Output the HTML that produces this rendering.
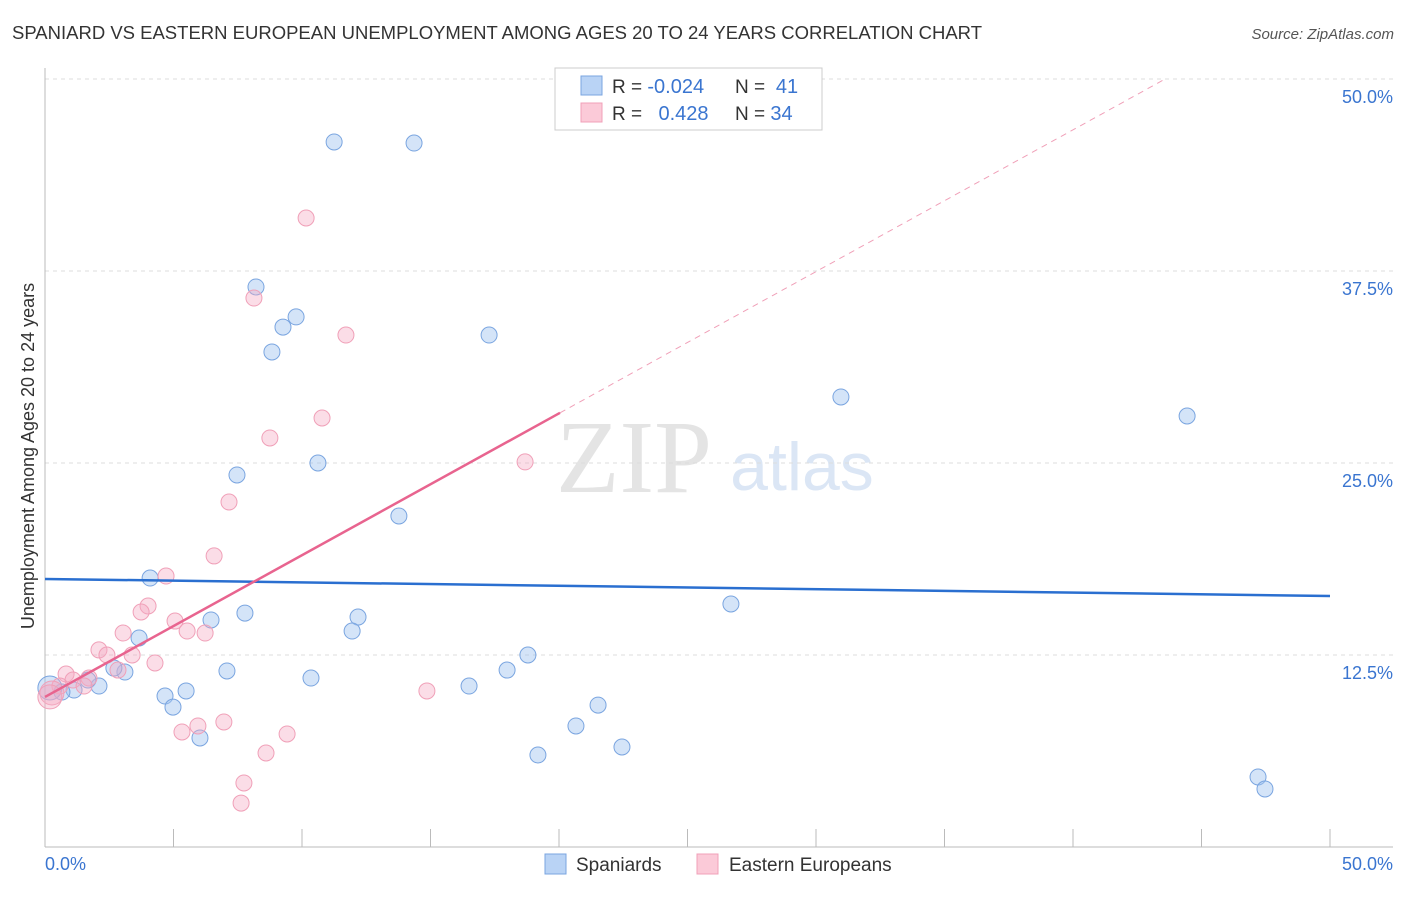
<!DOCTYPE html>
<html><head><meta charset="utf-8"><style>
body{margin:0;background:#fff;font-family:"Liberation Sans",sans-serif}
svg text{font-family:"Liberation Sans",sans-serif}
svg text.serif{font-family:"Liberation Serif",serif}
</style></head><body>
<svg id="chart" width="1406" height="892">
<text x="12" y="39" font-size="18.5" fill="#333" textLength="970">SPANIARD VS EASTERN EUROPEAN UNEMPLOYMENT AMONG AGES 20 TO 24 YEARS CORRELATION CHART</text>
<text x="1394" y="39" font-size="15" fill="#555" font-style="italic" text-anchor="end">Source: ZipAtlas.com</text>
<text class="serif" x="634" y="492" font-size="104" fill="#e4e4e4" text-anchor="middle">ZIP</text>
<text x="802" y="490" font-size="68" fill="#dbe6f5" text-anchor="middle">atlas</text>
<g id="grid"></g><g id="axes"></g><g id="marks"></g>
<text transform="translate(34,456) rotate(-90)" font-size="18" fill="#333" text-anchor="middle">Unemployment Among Ages 20 to 24 years</text>
<g>
<rect x="555" y="68" width="267" height="62" fill="#fff" stroke="#ccc"/>
<rect x="581" y="76" width="21" height="19" fill="#b9d3f5" stroke="#7aa5e0"/>
<rect x="581" y="103" width="21" height="19" fill="#fbcad8" stroke="#f0a0b8"/>
<text x="612" y="93" font-size="19" fill="#333">R = <tspan fill="#3a75d0" font-size="20">-0.024</tspan></text>
<text x="735" y="93" font-size="19" fill="#333">N = <tspan fill="#3a75d0" font-size="20">&#160;41</tspan></text>
<text x="612" y="120" font-size="19" fill="#333">R = <tspan fill="#3a75d0" font-size="20">&#160;&#160;0.428</tspan></text>
<text x="735" y="120" font-size="19" fill="#333">N = <tspan fill="#3a75d0" font-size="20">34</tspan></text>
</g>
<g>
<rect x="545" y="854" width="21" height="20" fill="#b9d3f5" stroke="#7aa5e0"/>
<text x="576" y="871" font-size="19" fill="#333">Spaniards</text>
<rect x="697" y="854" width="21" height="20" fill="#fbcad8" stroke="#f0a0b8"/>
<text x="729" y="871" font-size="19" fill="#333">Eastern Europeans</text>
</g>
</svg>
<script>
const yTicks=[12.5,25,37.5,50];
const yTickLabels=["12.5%","25.0%","37.5%","50.0%"];
const xTickLabels=["0.0%","50.0%"];
const spaniardsX=[11.25,14.36,8.21,9.77,9.26,8.83,17.28,30.97,44.44,7.47,10.62,13.77,4.09,3.66,6.46,7.78,12.18,11.95,26.69,18.79,17.98,16.50,10.35,7.08,3.11,2.68,2.10,1.13,0.66,0.19,5.49,4.67,4.98,6.03,21.52,20.66,19.18,22.45,47.2,47.47,1.67];
const spaniardsY=[45.9,45.83,36.46,34.51,33.85,32.23,33.33,29.30,28.06,24.22,25.0,21.55,17.51,13.61,14.78,15.23,14.97,14.06,15.82,12.5,11.52,10.48,11.0,11.46,11.39,11.65,10.48,10.22,10.09,10.35,10.16,9.83,9.11,7.10,9.24,7.88,5.99,6.51,4.56,3.78,10.87];
const easternX=[10.16,8.13,11.71,10.78,8.75,18.68,7.16,6.58,4.71,4.01,3.74,5.06,5.53,6.23,3.04,2.10,2.41,3.39,4.28,2.84,1.71,0.82,1.09,1.52,0.58,0.27,0.19,5.95,5.33,6.96,9.42,8.60,7.74,7.63,14.86];
const easternY=[40.95,35.74,33.33,27.93,26.63,25.07,22.46,18.95,17.64,15.69,15.30,14.71,14.06,13.93,13.93,12.83,12.5,12.5,11.98,11.52,11.0,11.26,10.87,10.48,10.48,10.03,9.77,7.88,7.49,8.14,7.36,6.12,4.17,2.86,10.16];
const blueTrend=[17.45,16.34];
const pinkTrend=[9.77,0.923];
const NS="http://www.w3.org/2000/svg";
const X=v=>45+v*25.7, Y=v=>847-v*15.36;
function mk(t,a,p){const e=document.createElementNS(NS,t);for(const k in a)e.setAttribute(k,a[k]);p.appendChild(e);return e;}
const grid=document.getElementById('grid'),axes=document.getElementById('axes'),marks=document.getElementById('marks');
yTicks.forEach((v,i)=>{
 const l=mk('line',{x1:45,x2:1393,y1:Y(v),y2:Y(v),stroke:'#ddd','stroke-dasharray':'4,4'},grid);
 
 
 const t=mk('text',{x:1393,y:Y(v)+24,'font-size':18,fill:'#3a75d0','text-anchor':'end'},axes);t.textContent=yTickLabels[i];
 
 
});
mk('line',{x1:45,x2:45,y1:68,y2:847,stroke:'#bbb'},axes);
mk('line',{x1:45,x2:1393,y1:847,y2:847,stroke:'#bbb'},axes);
for(let i=0;i<=10;i++){const tk=mk('line',{x1:X(i*5),x2:X(i*5),y1:829,y2:847,stroke:'#bbb'},axes);
 
 }
[[0,45,'start'],[50,1393,'end']].forEach((d,i)=>{const t=mk('text',{x:d[1],y:870,'font-size':18,fill:'#3a75d0','text-anchor':d[2]},axes);t.textContent=xTickLabels[i];
 
 });
function pts(xs,ys,fill,stroke,name){xs.forEach((x,i)=>{const big=x<0.5;const c=mk('circle',{cx:X(x),cy:Y(ys[i]),r:big?12:8,fill:fill,stroke:stroke,'stroke-width':1},marks);
 
 });}
pts(spaniardsX,spaniardsY,'rgba(160,196,240,0.45)','#7aa5e0','spaniards-point');
pts(easternX,easternY,'rgba(245,170,195,0.4)','#f0a0b8','eastern-european-point');
const bl=mk('line',{x1:X(0),y1:Y(blueTrend[0]),x2:X(50),y2:Y(blueTrend[1]),stroke:'#2a6fd0','stroke-width':2.5},marks);


const xs=20.04,xe=(50-pinkTrend[0])/pinkTrend[1];
const pl=mk('line',{x1:X(0),y1:Y(pinkTrend[0]),x2:X(xs),y2:Y(pinkTrend[0]+pinkTrend[1]*xs),stroke:'#e8648f','stroke-width':2.5},marks);


const pd=mk('line',{x1:X(xs),y1:Y(pinkTrend[0]+pinkTrend[1]*xs),x2:X(xe),y2:Y(50),stroke:'#f0a0b8','stroke-width':1,'stroke-dasharray':'6,5'},marks);


</script>
</body></html>
